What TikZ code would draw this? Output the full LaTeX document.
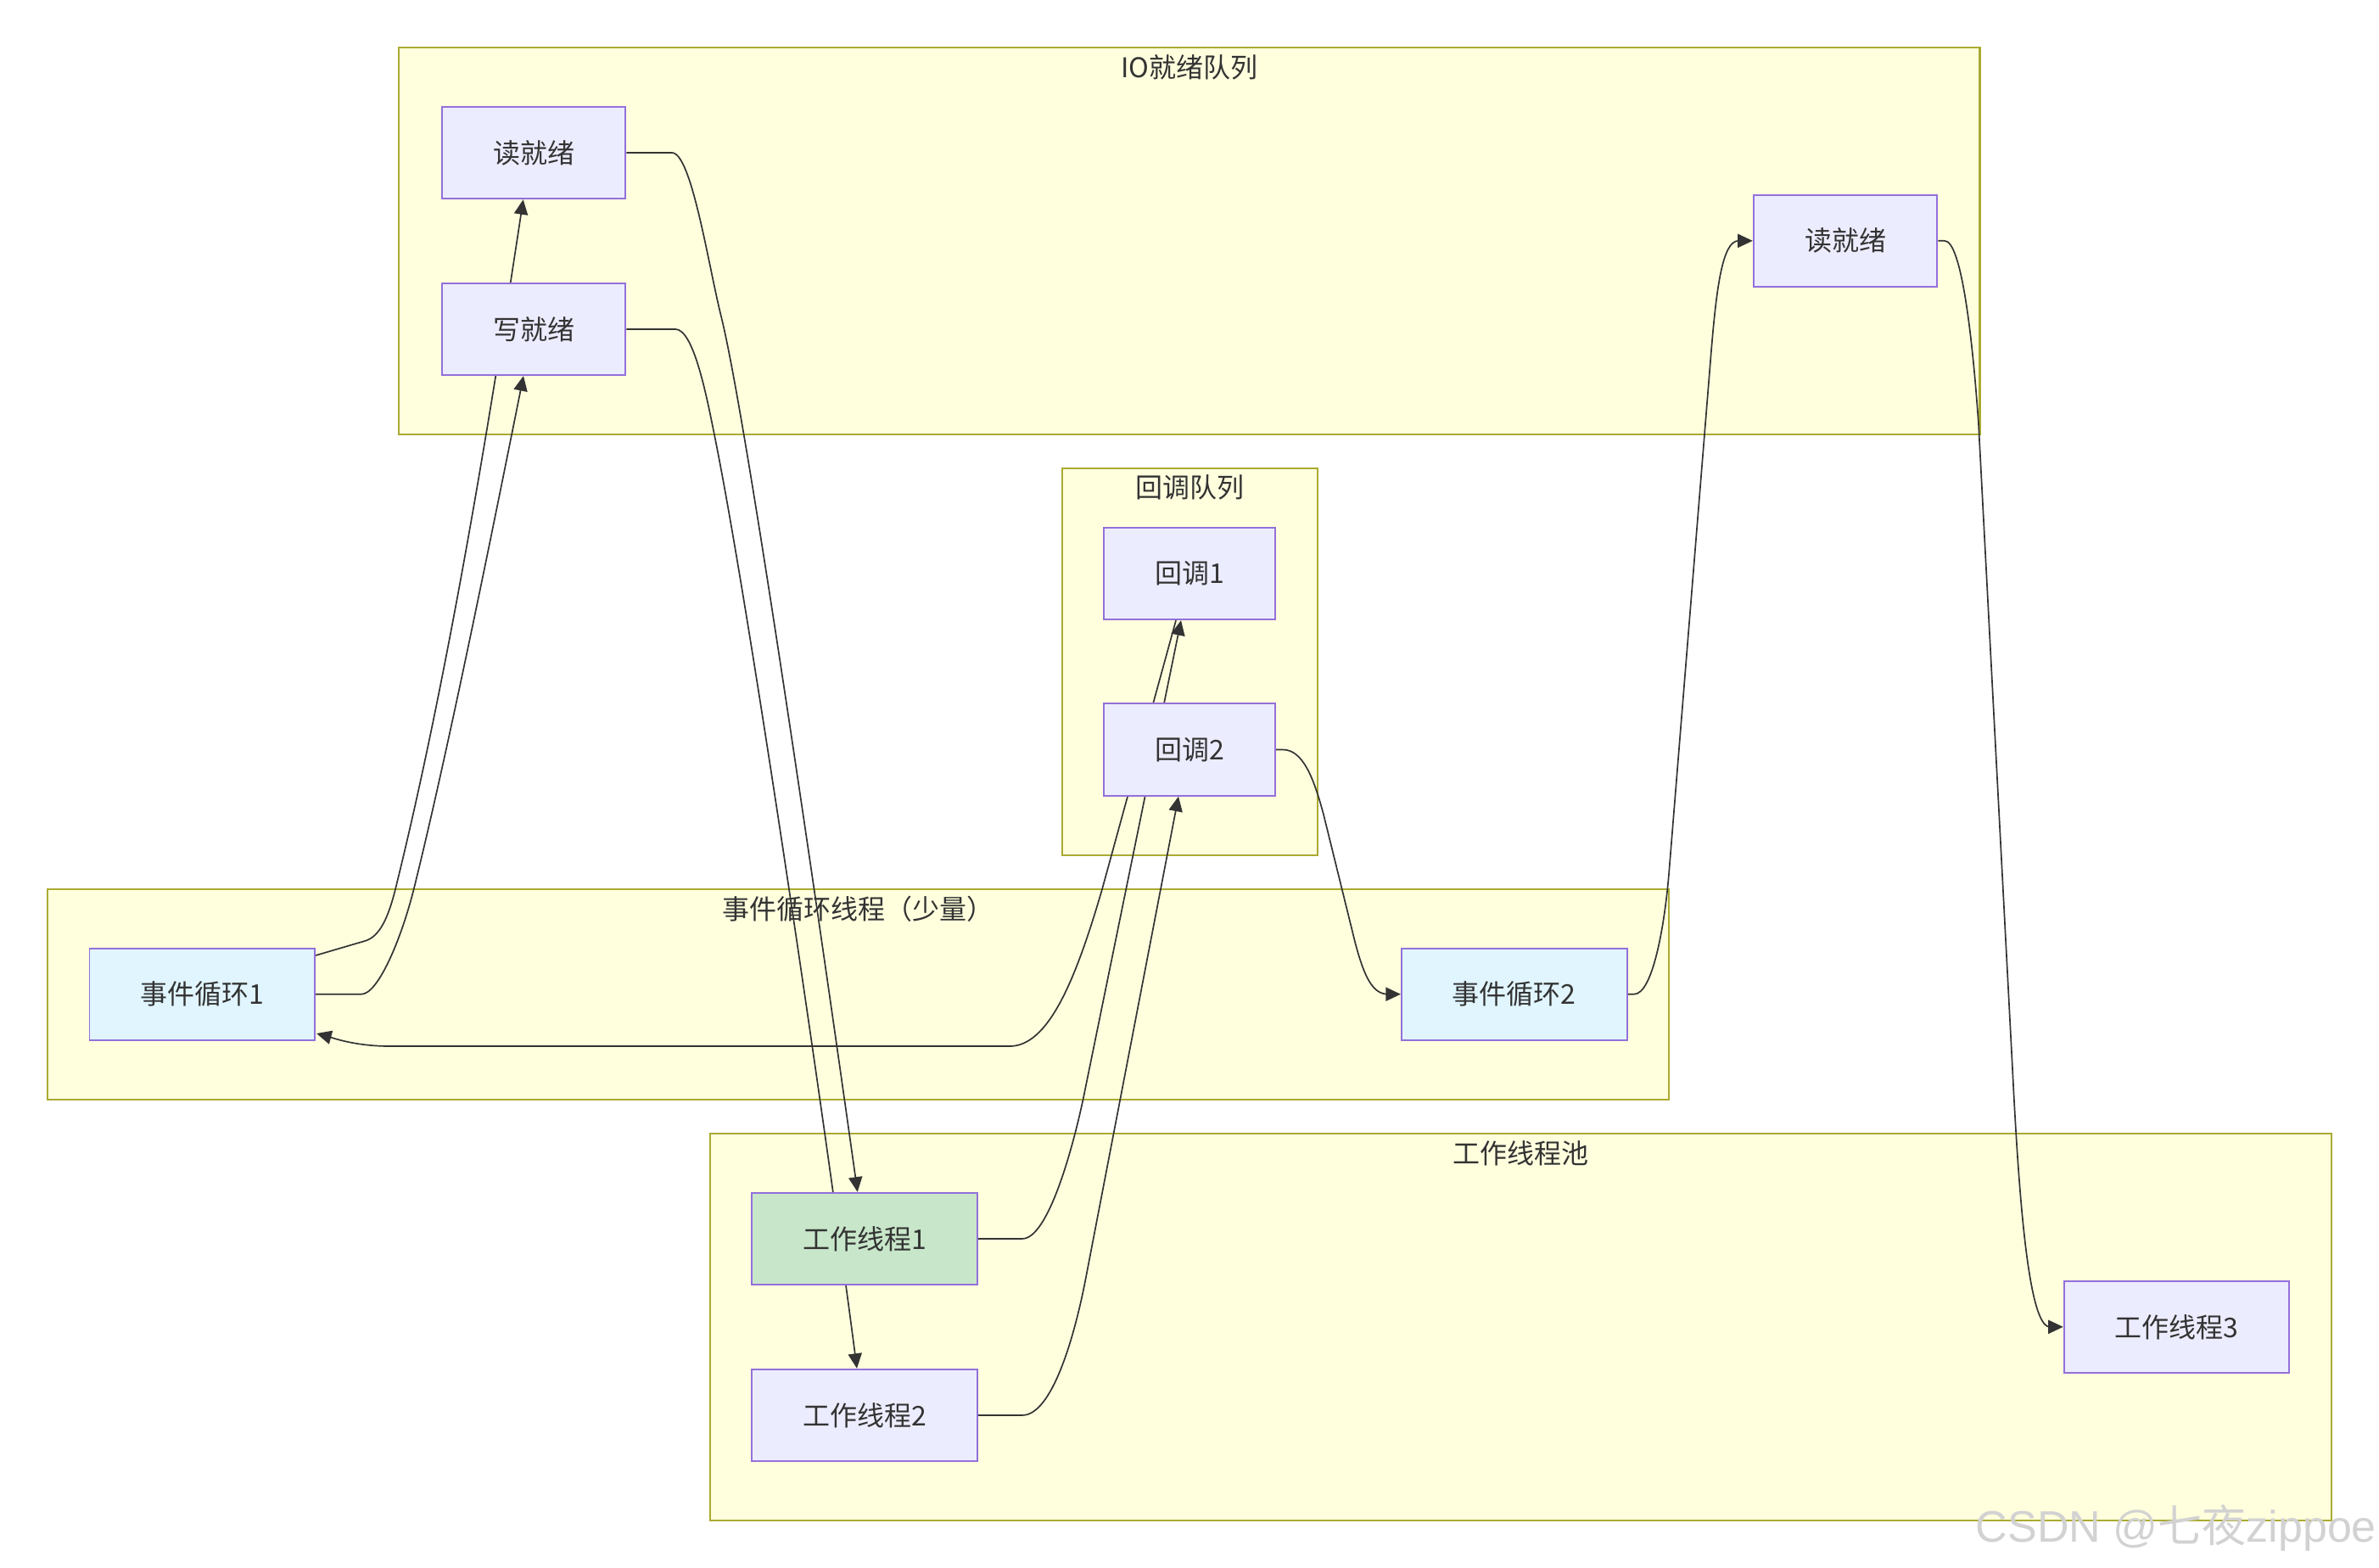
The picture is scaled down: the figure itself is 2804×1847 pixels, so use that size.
\documentclass[tikz,border=0pt]{standalone}
\usepackage{fontspec}
\setmainfont{Noto Sans CJK SC}
\newfontfamily\wmlatin{Liberation Sans}
\usetikzlibrary{arrows.meta,calc}

\definecolor{clusterfill}{HTML}{FFFFDE}
\definecolor{clusterline}{HTML}{AAAA33}
\definecolor{nodefill}{HTML}{ECECFF}
\definecolor{nodeline}{HTML}{9370DB}
\definecolor{loopfill}{HTML}{E1F5FE}
\definecolor{busyfill}{HTML}{C8E6C9}
\definecolor{ink}{HTML}{333333}
\definecolor{wmgray}{HTML}{D2D2D2}

\pgfdeclarelayer{clusters}
\pgfdeclarelayer{edges}
\pgfsetlayers{clusters,edges,main}

\tikzset{
  box/.style={draw=nodeline, fill=nodefill, line width=0.55pt, minimum height=1.083cm,
              inner sep=0pt, text=ink, font=\fontsize{9.1}{10}\selectfont},
  readybox/.style={box, minimum width=2.165cm},
  cbbox/.style={box, minimum width=2.02cm},
  widebox/.style={box, minimum width=2.655cm},
  cluster/.style={draw=clusterline, fill=clusterfill, line width=0.6pt},
  ctitle/.style={text=ink, font=\fontsize{9.1}{10}\selectfont, inner sep=0pt},
  flow/.style={draw=ink, line width=0.48pt, -{Triangle[length=5pt,width=4.6pt]}},
}

\begin{document}
\begin{tikzpicture}[x=0.01cm, y=-0.01cm]
\useasboundingbox (0,0) rectangle (2804,1847);

% ---------- subgraph frames ----------
\begin{pgfonlayer}{clusters}
  \draw[cluster] (470.3,55.7) rectangle (2333.5,511.7);
  \draw[cluster] (1251.7,551.7) rectangle (1552.7,1007.7);
  \draw[cluster] (55.6,1047.7) rectangle (1967.3,1295.7);
  \draw[cluster] (837,1335.7) rectangle (2748.3,1791.7);
\end{pgfonlayer}
\node[ctitle] (tio)   at (1402,79)    {IO就绪队列};
\node[ctitle] (tcb)   at (1402,574)   {回调队列};
\node[ctitle] (tloop) at (1011,1071)  {事件循环线程（少量）};
\node[ctitle] (tpool) at (1792.6,1359) {工作线程池};

% ---------- nodes ----------
\node[readybox] (R1) at (629,180)    {读就绪};
\node[readybox] (W)  at (629,387.9)  {写就绪};
\node[readybox] (R2) at (2175,283.8) {读就绪};
\node[cbbox]    (C1) at (1402,676)   {回调1};
\node[cbbox]    (C2) at (1402,883.5) {回调2};
\node[widebox, fill=loopfill] (EL1) at (238.3,1171.7)  {事件循环1};
\node[widebox, fill=loopfill] (EL2) at (1784.7,1171.7) {事件循环2};
\node[widebox, fill=busyfill] (WT1) at (1019.2,1459.9) {工作线程1};
\node[widebox] (WT2) at (1019.2,1667.9) {工作线程2};
\node[widebox] (WT3) at (2565.5,1563.8) {工作线程3};

% ---------- connectors ----------
\begin{pgfonlayer}{edges}
  % 事件循环1 -> 读就绪
  \draw[flow] ($(EL1.east)+(0,-45.7)$) -- (430,1109)
      .. controls (448,1104) and (458,1080) .. (466,1048)
      .. controls (528,798) and (579,484) .. ($(R1.south)+(-12.3,0)$);
  % 事件循环1 -> 写就绪
  \draw[flow] (EL1.east) -- (426,1171.7)
      .. controls (445,1171.7) and (472,1110) .. (487.7,1048)
      .. controls (530,878) and (587,592) .. ($(W.south)+(-12,0)$);
  % 读就绪 -> 工作线程1
  \draw[flow] (R1.east) -- (792,180)
      .. controls (815,180) and (835,313) .. (850,373)
      .. controls (880,493) and (968.7,1106) .. ($(WT1.north)+(-8.5,0)$);
  % 写就绪 -> 工作线程2
  \draw[flow] (W.east) -- (796,387.9)
      .. controls (818,387.9) and (833.5,470) .. (843.5,520)
      .. controls (883.5,720) and (971,1313.7) .. ($(WT2.north)+(-9.2,0)$);
  % 工作线程1 -> 回调1
  \draw[flow] (WT1.east) -- (1205,1459.9)
      .. controls (1235,1459.9) and (1264,1355) .. (1276.7,1295)
      -- ($(C1.south)+(-10,0)$);
  % 工作线程2 -> 回调2
  \draw[flow] (WT2.east) -- (1205,1667.9)
      .. controls (1240,1667.9) and (1266.7,1575) .. (1280,1505)
      -- ($(C2.south)+(-13,0)$);
  % 回调1 -> 事件循环1
  \draw[flow] ($(C1.south)+(-16,0)$) -- (1299,1048)
      .. controls (1267,1158) and (1235,1233) .. (1190,1233)
      -- (460,1233)
      .. controls (420,1233) and (395,1224) .. ($(EL1.east)+(1,46.3)$);
  % 回调2 -> 事件循环2
  \draw[flow] (C2.east) -- (1512,883.5)
      .. controls (1535,883.5) and (1548,915) .. (1560,960)
      -- (1597,1110)
      .. controls (1608,1152) and (1618,1171.7) .. (1636,1171.7)
      -- (EL2.west);
  % 事件循环2 -> 读就绪
  \draw[flow] (EL2.east) -- (1926,1171.7)
      .. controls (1948,1171.7) and (1962,1090) .. (1967,1030)
      -- (2016.7,416.7)
      .. controls (2023,340) and (2030,283.8) .. (2049,283.8)
      -- (R2.west);
  % 读就绪 -> 工作线程3
  \draw[flow] (R2.east) -- (2292,283.8)
      .. controls (2312,283.8) and (2325,400) .. (2332,500)
      -- (2372,1260)
      .. controls (2379,1400) and (2390,1563.8) .. (2416,1563.8)
      -- (WT3.west);
\end{pgfonlayer}

% ---------- watermark ----------
\node[anchor=base west, inner sep=0pt, text=wmgray, font=\fontsize{14.8}{16}\selectfont]
  (wm) at (2328,1817) {{\wmlatin CSDN @}七夜{\wmlatin zippoe}};
\end{tikzpicture}
\end{document}
